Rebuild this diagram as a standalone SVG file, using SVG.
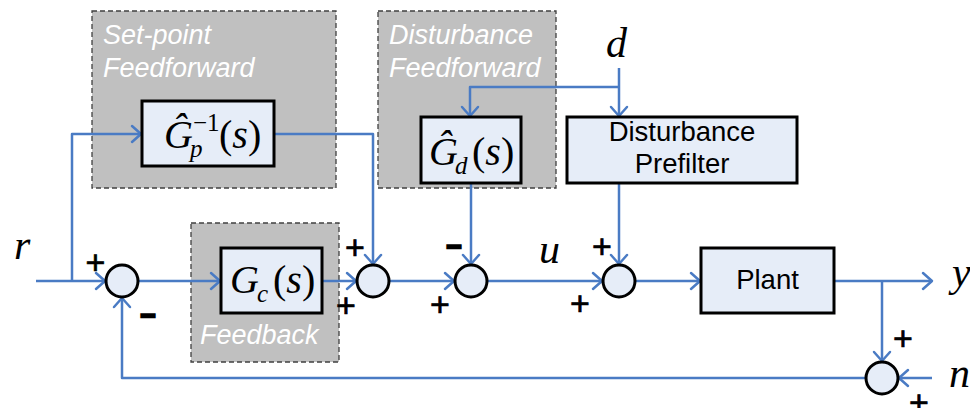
<svg xmlns="http://www.w3.org/2000/svg" width="970" height="408" viewBox="0 0 970 408">
<style>
.grp{fill:#C0C0C0;stroke:#404040;stroke-width:1.3;stroke-dasharray:5,3}
.blk{fill:#E6EDF8;stroke:#000;stroke-width:3}
.sum{fill:#E6EDF8;stroke:#000;stroke-width:3}
.lab{font-family:"Liberation Sans",Arial,sans-serif;font-style:italic;font-size:27px;fill:#fff}
.txt{font-family:"Liberation Sans",Arial,sans-serif;font-size:27.5px;fill:#000;text-anchor:middle}
.m{font-family:"Liberation Serif","Times New Roman",serif;font-size:40px;fill:#000}
.ms{font-family:"Liberation Serif","Times New Roman",serif;font-size:25px;fill:#000}
.i{font-style:italic}
.sig{font-family:"Liberation Serif","Times New Roman",serif;font-style:italic;font-size:42px;fill:#000}
.pl{font-family:"Liberation Sans",Arial,sans-serif;font-size:34px;fill:#000;stroke:#000;stroke-width:0.7;text-anchor:middle}
.mn{font-family:"Liberation Sans",Arial,sans-serif;font-size:26px;font-weight:bold;fill:#000;stroke:#000;stroke-width:2.5;text-anchor:middle}
.c{fill:none;stroke:#4A7BC4;stroke-width:2.5;stroke-linejoin:round}
</style>
<defs>
<marker id="ah" viewBox="-11 -10 13 20" refX="0" refY="0" markerWidth="13" markerHeight="20" markerUnits="userSpaceOnUse" orient="auto">
<path d="M-9,-8 L0,0 L-9,8" fill="none" stroke="#4A7BC4" stroke-width="2.5" stroke-linejoin="round" stroke-linecap="round"/>
</marker>
</defs>

<g id="setpoint-ff-group">
<rect class="grp" x="92" y="11" width="244" height="177"/>
<text class="lab" x="103" y="44">Set-point</text>
<text class="lab" x="103" y="77">Feedforward</text>
</g>
<g id="disturbance-ff-group">
<rect class="grp" x="378" y="11" width="178" height="177"/>
<text class="lab" x="389" y="44">Disturbance</text>
<text class="lab" x="389" y="77">Feedforward</text>
</g>
<g id="feedback-group">
<rect class="grp" x="191" y="223" width="148" height="139"/>
<text class="lab" x="200" y="344">Feedback</text>
</g>

<g id="connectors">
<path class="c" d="M36,281 L105,281" marker-end="url(#ah)"/>
<path class="c" d="M72,281 L72,134 L141,134" marker-end="url(#ah)"/>
<path class="c" d="M274,134 L373,134 L373,264" marker-end="url(#ah)"/>
<path class="c" d="M139,281 L220,281" marker-end="url(#ah)"/>
<path class="c" d="M322,281 L356,281" marker-end="url(#ah)"/>
<path class="c" d="M390,281 L454,281" marker-end="url(#ah)"/>
<path class="c" d="M619,68 L619,116" marker-end="url(#ah)"/>
<path class="c" d="M619,87 L470,87 L470,116" marker-end="url(#ah)"/>
<path class="c" d="M471,183 L471,264" marker-end="url(#ah)"/>
<path class="c" d="M488,281 L602,281" marker-end="url(#ah)"/>
<path class="c" d="M619,183 L619,264" marker-end="url(#ah)"/>
<path class="c" d="M636,281 L700,281" marker-end="url(#ah)"/>
<path class="c" d="M834,281 L932,281" marker-end="url(#ah)"/>
<path class="c" d="M882,281 L882,361" marker-end="url(#ah)"/>
<path class="c" d="M932,378 L899,378" marker-end="url(#ah)"/>
<path class="c" d="M865,378 L122,378 L122,298" marker-end="url(#ah)"/>
</g>

<g id="gp-inv">
<rect class="blk" x="142" y="101" width="132" height="65"/>
<text class="m i" x="164" y="148">Ĝ</text>
<text class="ms i" x="190" y="157">p</text>
<text class="ms" x="193" y="131">−1</text>
<text class="m" x="219" y="148">(<tspan class="i">s</tspan>)</text>
</g>
<g id="gd">
<rect class="blk" x="421" y="117" width="100" height="66"/>
<text class="m i" x="429" y="165">Ĝ</text>
<text class="ms i" x="455" y="174">d</text>
<text class="m" x="472" y="165">(<tspan class="i">s</tspan>)</text>
</g>
<g id="prefilter">
<rect class="blk" x="567" y="117" width="230" height="66"/>
<text class="txt" x="682" y="141">Disturbance</text>
<text class="txt" x="682" y="173">Prefilter</text>
</g>
<g id="gc">
<rect class="blk" x="221" y="248" width="101" height="65"/>
<text class="m i" x="230" y="293">G</text>
<text class="ms i" x="257" y="302">c</text>
<text class="m" x="273" y="293">(<tspan class="i">s</tspan>)</text>
</g>
<g id="plant">
<rect class="blk" x="701" y="248" width="133" height="65"/>
<text class="txt" x="767.5" y="289">Plant</text>
</g>

<g id="sum1"><circle class="sum" cx="122" cy="281" r="16"/></g>
<g id="sum2"><circle class="sum" cx="373" cy="281" r="16"/></g>
<g id="sum3"><circle class="sum" cx="471" cy="281" r="16"/></g>
<g id="sum4"><circle class="sum" cx="619" cy="281" r="16"/></g>
<g id="sum5"><circle class="sum" cx="882" cy="378" r="16"/></g>

<g id="signs">
<text class="pl" x="95.5" y="274">+</text>
<text class="mn" x="148" y="323">–</text>
<text class="pl" x="355" y="259">+</text>
<text class="pl" x="346" y="317">+</text>
<text class="mn" x="454" y="253.5">–</text>
<text class="pl" x="440" y="316">+</text>
<text class="pl" x="602" y="258">+</text>
<text class="pl" x="580" y="315">+</text>
<text class="pl" x="903" y="350">+</text>
<text class="pl" x="919" y="414">+</text>
</g>

<g id="signals">
<text class="sig" x="14" y="259">r</text>
<text class="sig" x="539" y="263">u</text>
<text class="sig" x="606" y="57">d</text>
<text class="sig" x="952" y="286">y</text>
<text class="sig" x="949" y="387">n</text>
</g>
</svg>
